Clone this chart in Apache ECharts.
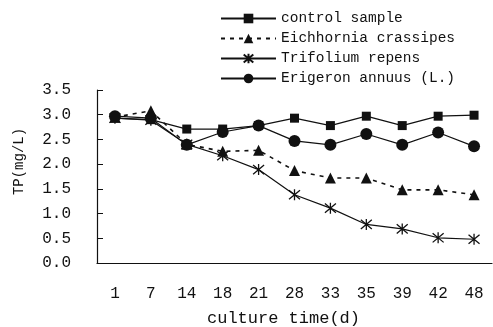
<!DOCTYPE html>
<html>
<head>
<meta charset="utf-8">
<script src="https://cdn.jsdelivr.net/npm/echarts@6/dist/echarts.min.js"></script>
<style>
  html, body { margin: 0; padding: 0; background: #fff; }
  #chart { width: 493px; height: 327px; }
</style>
</head>
<body>
<div id="chart"></div>
<script>
const days = ['1', '7', '14', '18', '21', '28', '33', '35', '39', '42', '48']
const control = [2.93, 2.90, 2.71, 2.71, 2.78, 2.93, 2.78, 2.97, 2.78, 2.97, 2.99]
const eichhornia = [2.95, 3.08, 2.40, 2.26, 2.28, 1.87, 1.72, 1.72, 1.48, 1.48, 1.38]
const trifolium = [2.93, 2.89, 2.40, 2.17, 1.89, 1.38, 1.11, 0.78, 0.69, 0.51, 0.48]
const erigeron = [2.97, 2.93, 2.39, 2.65, 2.78, 2.47, 2.39, 2.61, 2.39, 2.64, 2.36]

const ink = '#111'
const font = 'Liberation Mono'
// six-armed star drawn as strokes
const asterisk = 'path://M0,0L10,10M10,0L0,10M5,-1L5,11'

const base = (name, data, symbol, size, extra = {}) => ({
  type: 'line', name, data, symbol, symbolSize: size,
  showAllSymbol: true, animation: false,
  lineStyle: { color: ink, width: 1.2, ...(extra.lineStyle || {}) },
  itemStyle: { color: ink, ...(extra.itemStyle || {}) },
})

const chart = echarts.init(document.getElementById('chart'))
chart.setOption({
  animation: false,
  grid: { left: 97, right: 1, top: 90, bottom: 64, outerBoundsMode: 'none' },
  legend: {
    orient: 'vertical', left: 220, top: 11, padding: 0,
    itemWidth: 55, itemHeight: 12, itemGap: 5,
    textStyle: { fontFamily: font, fontSize: 14.5, color: ink },
    data: ['control sample', 'Eichhornia crassipes', 'Trifolium repens', 'Erigeron annuus (L.)'],
  },
  xAxis: {
    type: 'category', data: days, boundaryGap: true,
    name: 'culture time(d)', nameLocation: 'middle', nameGap: 47,
    nameTextStyle: { fontFamily: font, fontSize: 17, color: ink, padding: [0, 22, 0, 0] },
    axisLine: { lineStyle: { color: ink, width: 1.2 } },
    axisTick: { inside: true, length: 5, lineStyle: { color: ink } },
    axisLabel: { fontFamily: font, fontSize: 16, color: ink, margin: 23 },
  },
  yAxis: {
    type: 'value', min: 0, max: 3.5, interval: 0.5,
    name: 'TP(mg/L)', nameLocation: 'middle', nameGap: 71, nameRotate: 90,
    nameTextStyle: { fontFamily: font, fontSize: 14, color: ink, padding: [0, 0, 0, 30] },
    axisLine: { show: true, lineStyle: { color: ink, width: 1.2 } },
    axisTick: { show: true, inside: true, length: 6, lineStyle: { color: ink } },
    axisLabel: { fontFamily: font, fontSize: 16, color: ink, margin: 26, formatter: v => v.toFixed(1) },
    splitLine: { show: false },
  },
  series: [
    base('control sample', control, 'rect', 9),
    base('Eichhornia crassipes', eichhornia, 'triangle', 11, { lineStyle: { type: [4, 5], width: 1.6 } }),
    base('Trifolium repens', trifolium, asterisk, 11,
      { itemStyle: { color: 'none', borderColor: ink, borderWidth: 1.3 } }),
    base('Erigeron annuus (L.)', erigeron, 'circle', 12),
  ],
})
</script>
</body>
</html>
